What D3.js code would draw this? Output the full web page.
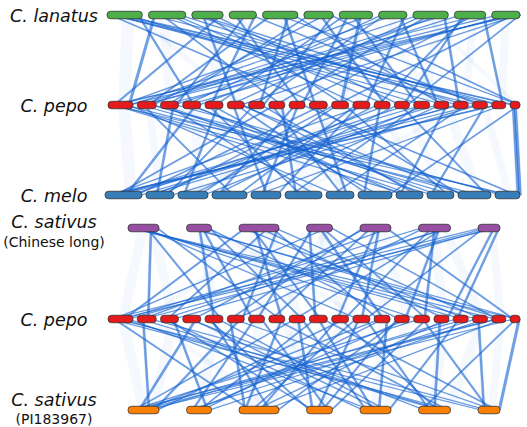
<!DOCTYPE html>
<html>
<head>
<meta charset="utf-8">
<script src="https://cdn.jsdelivr.net/npm/d3@7"></script>
<style>
  body { margin: 0; background: #fff; }
  svg text { font-family: "DejaVu Sans", sans-serif; fill: #111; }
</style>
</head>
<body>
<div id="chart"></div>
<script>
// chromosome lengths (Mb)
var lanatusChr = [35, 37, 31, 27, 35, 29, 33, 28, 35, 31, 28];
var pepoChr = [25, 19, 18, 18, 18, 17, 16, 16, 16, 18, 17, 17, 16, 15, 16, 15, 15, 15, 14, 10];
var meloChr = [37, 28, 30, 35, 30, 37, 28, 34, 27, 27, 33, 25];
var sativusChr = [31, 25, 40, 26, 31, 32, 22];

// links: [chr A, pos A, chr B, pos B, span]  (upper track -> lower track)
var lanatusPepoLinks = [
  [1,5,19,5,2.5],[1,10,20,4,2.5],[1,20,15,8,2],[1,30,4,10,2],[2,5,1,20,2.5],[2,20,12,5,2],
  [2,30,17,10,2.5],[3,10,6,8,2],[3,20,14,5,2],[3,28,1,5,2.5],[4,5,9,10,2],[4,20,18,6,2.5],
  [5,8,2,10,2.5],[5,20,10,5,2],[5,30,16,8,2],[6,5,3,6,2],[6,15,13,10,2.5],[6,25,20,8,2.5],
  [7,5,5,10,2],[7,20,11,8,2.5],[7,30,1,12,2.5],[8,5,7,5,2],[8,20,16,3,2],[9,5,2,3,2],
  [9,15,8,6,2.5],[9,30,17,5,2],[10,5,3,12,2.5],[10,20,9,4,2],[10,28,19,10,2],[11,5,1,18,3],
  [11,15,4,4,2.5],[11,25,6,12,2.5],[11,27,14,12,2],[1,2,10,10,2.5],[4,25,5,5,2],[8,25,12,12,2],
  [9,25,4,15,2.5],[2,12,8,12,2],[3,5,18,12,2.5],[6,28,7,14,2],[7,12,15,3,2],[10,12,13,3,2],
  [5,15,20,8,2],[11,20,11,3,2.5],
  [11,26,1,2,2.5],[11,22,2,3,2],[11,18,3,2,2],[10,25,1,8,2],[9,32,2,8,2],[1,3,18,3,2.5],
  [1,8,16,10,2],[1,15,20,1,2],[2,2,19,8,2],[3,2,17,2,2],[8,15,1,22,2],[6,20,2,15,2],
  [4,15,3,15,2],[5,25,7,10,2],[7,8,9,12,2],[10,8,14,8,2],[2,25,13,12,2],[3,12,11,12,2],
  [9,10,6,2,2],[8,2,4,2,2]
];
var pepoMeloLinks = [
  [1,5,9,10,2.5],[1,15,11,20,2.5],[1,20,7,10,2],[2,5,4,20,2],[2,12,12,10,2.5],[3,5,6,30,2],
  [3,12,2,10,2],[4,5,10,10,2],[4,12,1,20,2.5],[5,5,8,20,2],[5,12,3,5,2],[6,5,5,15,2],
  [6,12,11,5,2.5],[7,5,2,20,2],[7,12,9,20,2],[8,5,1,10,2.5],[8,12,6,10,2],[9,5,4,5,2],
  [9,12,12,20,2.5],[10,5,7,20,2],[10,12,1,30,2.5],[11,5,3,20,2],[11,12,10,20,2],[12,5,5,25,2],
  [12,12,1,5,2.5],[13,5,8,5,2],[13,12,2,5,2.5],[14,5,11,28,2],[14,12,1,25,2.5],[15,5,6,5,2],
  [15,12,3,25,2],[16,5,4,30,2],[16,12,9,3,2],[17,5,1,15,2.5],[17,12,7,5,2],[18,5,2,25,2.5],
  [18,12,10,3,2],[19,5,1,3,3],[19,10,5,5,2],[20,4,12,24,2.5],[20,8,8,30,2],[3,15,12,5,2],
  [6,15,9,25,2],[2,16,10,25,2],
  [19,3,1,1,2.5],[18,2,1,8,2],[17,2,2,2,2],[15,8,1,12,2],[20,2,12,22,2.5],[1,2,12,15,2],
  [1,8,10,5,2],[2,2,11,10,2],[3,2,9,15,2],[13,2,3,12,2],[12,2,4,25,2],[11,2,2,15,2],
  [5,2,6,15,2],[8,2,7,15,2],[9,8,5,10,2],[10,2,11,2,2],[14,2,4,2,2],[6,8,8,10,2],
  [4,8,9,5,2],[16,2,1,35,2]
];
var chineseLongPepoLinks = [
  [1,3,20,5,2.5],[1,8,17,8,2],[1,15,12,4,2],[1,22,2,10,2],[1,28,8,10,2],[2,5,19,10,2.5],
  [2,12,5,8,2],[2,20,14,4,2],[3,5,1,15,2.5],[3,12,10,10,2],[3,20,16,10,2.5],[3,28,3,6,2],
  [3,35,18,8,2],[4,5,7,8,2],[4,12,13,8,2.5],[4,20,1,5,2],[5,5,4,10,2],[5,15,11,5,2],
  [5,25,20,2,2.5],[6,5,6,8,2],[6,15,15,10,2],[6,25,9,5,2],[6,30,1,20,2.5],[7,5,12,12,2],
  [7,12,3,12,2.5],[7,18,1,10,2.5],[7,20,17,3,2],[2,22,9,12,2],[4,24,19,4,2],[5,28,2,4,2.5],
  [1,12,15,3,2],[6,20,14,10,2],[3,38,6,14,2],[5,10,8,2,2],
  [7,2,1,1,2.5],[7,8,2,5,2],[6,2,1,15,2],[6,28,3,2,2],[1,2,19,2,2.5],[1,5,18,3,2],
  [2,2,20,6,2],[3,3,17,12,2],[5,2,6,2,2],[4,2,10,5,2],[3,15,8,12,2],[2,15,7,3,2],
  [5,18,12,8,2],[6,12,11,12,2],[4,15,15,12,2],[3,32,13,3,2],[1,18,5,15,2],[7,15,16,12,2]
];
var pepoPI183967Links = [
  [1,5,3,10,2.5],[1,12,6,20,2.5],[1,20,5,10,2],[2,5,1,20,2],[2,12,7,8,2.5],[3,5,4,5,2],
  [3,12,2,20,2],[4,5,6,5,2],[4,12,1,10,2.5],[5,5,3,30,2],[5,12,5,25,2],[6,5,7,15,2],
  [6,12,1,25,2.5],[7,5,2,5,2],[7,12,4,20,2],[8,5,6,28,2.5],[8,12,3,5,2],[9,5,1,5,2],
  [9,12,5,5,2],[10,5,2,12,2],[10,12,7,18,2.5],[11,5,3,20,2],[11,12,1,28,2.5],[12,5,4,10,2],
  [12,12,6,10,2],[13,5,1,15,2.5],[13,12,5,18,2],[14,5,3,38,2],[14,12,2,8,2],[15,5,1,3,2.5],
  [15,12,4,24,2],[16,5,6,15,2],[16,12,3,15,2],[17,5,5,28,2],[17,12,1,8,2.5],[18,5,7,5,2],
  [18,12,2,22,2],[19,5,1,12,2.5],[19,10,3,25,2],[20,5,6,2,2],[20,8,7,20,2.5],
  [1,2,6,30,2.5],[1,8,7,2,2],[2,2,6,22,2],[3,2,5,2,2],[19,3,1,2,2.5],[20,3,1,18,2],
  [18,2,2,2,2],[17,2,1,22,2],[5,2,4,2,2],[6,2,3,5,2],[10,8,5,12,2],[11,8,6,18,2],
  [12,2,3,12,2],[13,8,2,15,2],[14,2,4,15,2],[15,8,7,10,2],[9,8,4,5,2],[4,8,5,20,2]
];

// weaker blocks, drawn pale
var lanatusPepoFaint = [
  [1,15,1,10,12],[2,10,3,5,10],[3,15,5,8,10],[4,10,6,5,8],[5,20,8,8,10],[6,10,10,6,8],[7,15,11,5,10],
  [8,10,13,5,8],[9,20,15,6,10],[10,15,17,8,8],[11,10,19,6,8],[1,25,6,10,8],[5,5,12,8,8],[9,8,20,4,6],
  [3,25,9,10,8],[7,25,16,4,8]
];
var pepoMeloFaint = [
  [1,10,1,20,12],[2,8,2,10,8],[4,8,3,15,10],[5,8,4,10,10],[7,8,5,15,8],[8,8,6,20,10],[10,8,7,12,8],
  [11,8,8,15,10],[13,8,9,12,8],[14,8,10,12,8],[16,8,11,15,10],[18,8,12,10,8],[20,3,12,20,6],
  [3,8,8,5,8],[12,8,3,5,8],[17,8,6,5,8]
];
var chineseLongPepoFaint = [
  [1,10,1,10,10],[1,20,3,8,10],[2,10,5,5,10],[3,10,7,8,10],[3,25,9,5,10],[4,10,11,6,10],[5,10,13,6,10],
  [5,20,14,8,8],[6,10,16,5,10],[6,22,18,4,10],[7,10,19,5,8],[3,30,2,6,8],[4,18,8,3,8],[2,18,12,6,8]
];
var pepoPI183967Faint = [
  [1,10,1,10,10],[3,8,1,20,10],[5,5,2,10,10],[7,5,3,10,10],[9,5,3,25,10],[11,5,4,10,10],[13,5,5,10,10],
  [14,8,5,22,8],[16,5,6,10,10],[18,5,6,25,10],[19,5,7,10,8],[2,10,3,30,8],[8,8,4,18,8],[12,8,2,18,8]
];

var width = 527, height = 427;
var barH = 7.5;
var linkColor = "#1966d2";

var tracks = [
  { label: "C. lanatus", sub: null, chr: lanatusChr, gap: 6, x0: 107, x1: 520, y: 15, color: "#4daf4a" },
  { label: "C. pepo", sub: null, chr: pepoChr, gap: 4.3, x0: 108, x1: 520, y: 105, color: "#e41a1c" },
  { label: "C. melo", sub: null, chr: meloChr, gap: 4, x0: 105, x1: 520, y: 195, color: "#377eb8" },
  { label: "C. sativus", sub: "(Chinese long)", chr: sativusChr, gap: 27.5, x0: 128, x1: 500, y: 228, color: "#984ea3", ly: 221, sy: 242 },
  { label: "C. pepo", sub: null, chr: pepoChr, gap: 4.3, x0: 108, x1: 520, y: 319, color: "#e41a1c" },
  { label: "C. sativus", sub: "(PI183967)", chr: sativusChr, gap: 27.5, x0: 128, x1: 500, y: 410, color: "#ff7f00", ly: 399, sy: 419 }
];

// cumulative offsets and scale per track
tracks.forEach(function (t) {
  var off = [], acc = 0;
  t.chr.forEach(function (len, i) {
    off.push(acc);
    acc += len + (i < t.chr.length - 1 ? t.gap : 0);
  });
  t.offsets = off;
  t.x = d3.scaleLinear().domain([0, acc]).range([t.x0, t.x1]);
  t.pos = function (c, p) { return t.x(off[c - 1] + p); };
});

var pairs = [
  { a: 0, b: 1, strong: lanatusPepoLinks, faint: lanatusPepoFaint },
  { a: 1, b: 2, strong: pepoMeloLinks, faint: pepoMeloFaint },
  { a: 3, b: 4, strong: chineseLongPepoLinks, faint: chineseLongPepoFaint },
  { a: 4, b: 5, strong: pepoPI183967Links, faint: pepoPI183967Faint }
];

var svg = d3.select("#chart").append("svg")
  .attr("width", width)
  .attr("height", height);

var ribbon = function (ta, tb, d) {
  var xa0 = ta.pos(d[0], d[1]), xa1 = ta.pos(d[0], d[1] + d[4]);
  var xb0 = tb.pos(d[2], d[3]), xb1 = tb.pos(d[2], d[3] + d[4]);
  return "M" + xa0 + "," + ta.y + "L" + xa1 + "," + ta.y +
    "L" + xb1 + "," + tb.y + "L" + xb0 + "," + tb.y + "Z";
};

var gLinks = svg.append("g");
pairs.forEach(function (p) {
  var ta = tracks[p.a], tb = tracks[p.b];
  gLinks.append("g").selectAll("path")
    .data(p.faint)
    .join("path")
    .attr("d", function (d) { return ribbon(ta, tb, d); })
    .attr("fill", linkColor)
    .attr("fill-opacity", 0.045);
  gLinks.append("g").selectAll("path")
    .data(p.strong)
    .join("path")
    .attr("d", function (d) { return ribbon(ta, tb, d); })
    .attr("fill", linkColor)
    .attr("fill-opacity", 0.6)
    .attr("stroke", linkColor)
    .attr("stroke-opacity", 0.55)
    .attr("stroke-width", 0.6);
});

// chromosome bars
tracks.forEach(function (t) {
  svg.append("g").selectAll("rect")
    .data(t.chr)
    .join("rect")
    .attr("x", function (d, i) { return t.x(t.offsets[i]); })
    .attr("y", t.y - barH / 2)
    .attr("width", function (d, i) { return t.x(t.offsets[i] + d) - t.x(t.offsets[i]); })
    .attr("height", barH)
    .attr("rx", 3.5)
    .attr("fill", t.color)
    .attr("stroke", "#333")
    .attr("stroke-width", 0.8);

  svg.append("text")
    .attr("x", 54)
    .attr("y", (t.ly || t.y) + 6.5)
    .attr("text-anchor", "middle")
    .attr("font-size", "17.5px")
    .attr("font-style", "italic")
    .text(t.label);

  if (t.sub) {
    svg.append("text")
      .attr("x", 54)
      .attr("y", t.sy + 5)
      .attr("text-anchor", "middle")
      .attr("font-size", "14px")
      .text(t.sub);
  }
});
</script>
</body>
</html>
